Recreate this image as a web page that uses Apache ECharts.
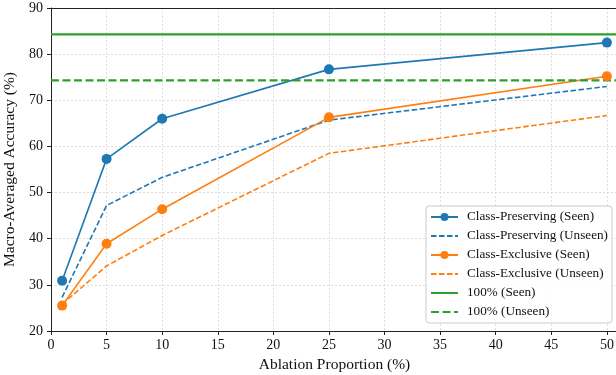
<!DOCTYPE html>
<html>
<head>
<meta charset="utf-8">
<script src="https://cdn.jsdelivr.net/npm/echarts@6/dist/echarts.min.js"></script>
<style>
  html, body { margin: 0; padding: 0; background: #fff; }
  #chart { width: 616px; height: 375px; }
</style>
</head>
<body>
<div id="chart"></div>
<script>
// ablation proportions (%)
const proportions = [1, 5, 10, 25, 50];
// macro-averaged accuracy (%)
const cpSeen = [30.9, 57.3, 66.0, 76.7, 82.5];
const cpUnseen = [27.3, 47.2, 53.3, 65.7, 73.0];
const ceSeen = [25.5, 38.9, 46.4, 66.3, 75.2];
const ceUnseen = [25.8, 34.1, 40.7, 58.5, 66.7];
// full-data reference levels
const fullSeen = 84.3;
const fullUnseen = 74.3;
const xRange = [0, 51];

const font = 'Liberation Serif';
const blue = '#1f77b4', orange = '#ff7f0e', green = '#2ca02c';

function pairs(ys) {
  return proportions.map((x, i) => [x, ys[i]]);
}

const chart = echarts.init(document.getElementById('chart'));

// legend rows; dashed ones get no marker
const noMark = { opacity: 0 };

const option = {
  backgroundColor: '#fff',
  animation: false,
  grid: {
    left: 51,
    right: -2,
    top: 8,
    bottom: 44,
    outerBoundsMode: 'none',
    containLabel: false
  },
  xAxis: [
    {
      type: 'value',
      min: xRange[0],
      max: xRange[1],
      interval: 5,
      name: 'Ablation Proportion (%)',
      nameLocation: 'middle',
      nameGap: 26,
      nameTextStyle: { fontFamily: font, fontSize: 15.5, color: '#111' },
      axisLine: { show: true, onZero: false, lineStyle: { color: '#222', width: 1 } },
      axisTick: { show: true, inside: false, length: 4, lineStyle: { color: '#222' } },
      axisLabel: { fontFamily: font, fontSize: 14, color: '#111', margin: 7, showMaxLabel: false },
      splitLine: { show: true, lineStyle: { color: '#d6d6d6', width: 0.8, type: [2, 2] } }
    },
    {
      // top spine
      type: 'value',
      position: 'top',
      min: xRange[0],
      max: xRange[1],
      axisLine: { show: true, onZero: false, lineStyle: { color: '#222', width: 1 } },
      axisTick: { show: false },
      axisLabel: { show: false },
      splitLine: { show: false }
    }
  ],
  yAxis: {
    type: 'value',
    min: 20,
    max: 90,
    interval: 10,
    name: 'Macro-Averaged Accuracy (%)',
    nameLocation: 'middle',
    nameGap: 27,
    nameTextStyle: { fontFamily: font, fontSize: 15.5, color: '#111' },
    axisLine: { show: true, onZero: false, lineStyle: { color: '#222', width: 1 } },
    axisTick: { show: true, inside: false, length: 4, lineStyle: { color: '#222' } },
    axisLabel: { fontFamily: font, fontSize: 14, color: '#111', margin: 8 },
    splitLine: { show: true, lineStyle: { color: '#d6d6d6', width: 0.8, type: [2, 2] } }
  },
  legend: {
    orient: 'vertical',
    left: 426,
    top: 206,
    padding: [4, 4, 4, 4],
    itemWidth: 27,
    itemHeight: 10,
    itemGap: 5,
    backgroundColor: 'rgba(255,255,255,0.85)',
    borderColor: '#cccccc',
    borderWidth: 1,
    borderRadius: 3,
    textStyle: { fontFamily: font, fontSize: 13.2, color: '#111', lineHeight: 14, padding: [0, 0, 0, 4] },
    data: [
      { name: 'Class-Preserving (Seen)' },
      { name: 'Class-Preserving (Unseen)', itemStyle: noMark },
      { name: 'Class-Exclusive (Seen)' },
      { name: 'Class-Exclusive (Unseen)', itemStyle: noMark },
      { name: '100% (Seen)', itemStyle: noMark },
      { name: '100% (Unseen)', itemStyle: noMark }
    ]
  },
  series: [
    {
      name: 'Class-Preserving (Seen)',
      type: 'line',
      data: pairs(cpSeen),
      symbol: 'circle',
      symbolSize: 10,
      itemStyle: { color: blue },
      lineStyle: { color: blue, width: 1.6 }
    },
    {
      name: 'Class-Preserving (Unseen)',
      type: 'line',
      data: pairs(cpUnseen),
      symbol: 'none',
      itemStyle: { color: blue },
      lineStyle: { color: blue, width: 1.6, type: [5.5, 2.5] }
    },
    {
      name: 'Class-Exclusive (Seen)',
      type: 'line',
      data: pairs(ceSeen),
      symbol: 'circle',
      symbolSize: 10,
      itemStyle: { color: orange },
      lineStyle: { color: orange, width: 1.6 }
    },
    {
      name: 'Class-Exclusive (Unseen)',
      type: 'line',
      data: pairs(ceUnseen),
      symbol: 'none',
      itemStyle: { color: orange },
      lineStyle: { color: orange, width: 1.6, type: [5.5, 2.5] }
    },
    {
      name: '100% (Seen)',
      type: 'line',
      data: xRange.map(x => [x, fullSeen]),
      symbol: 'none',
      itemStyle: { color: green },
      lineStyle: { color: green, width: 2.2 }
    },
    {
      name: '100% (Unseen)',
      type: 'line',
      data: xRange.map(x => [x, fullUnseen]),
      symbol: 'none',
      itemStyle: { color: green },
      lineStyle: { color: green, width: 2.2, type: [8, 3.5] }
    }
  ]
};

chart.setOption(option);
</script>
</body>
</html>
